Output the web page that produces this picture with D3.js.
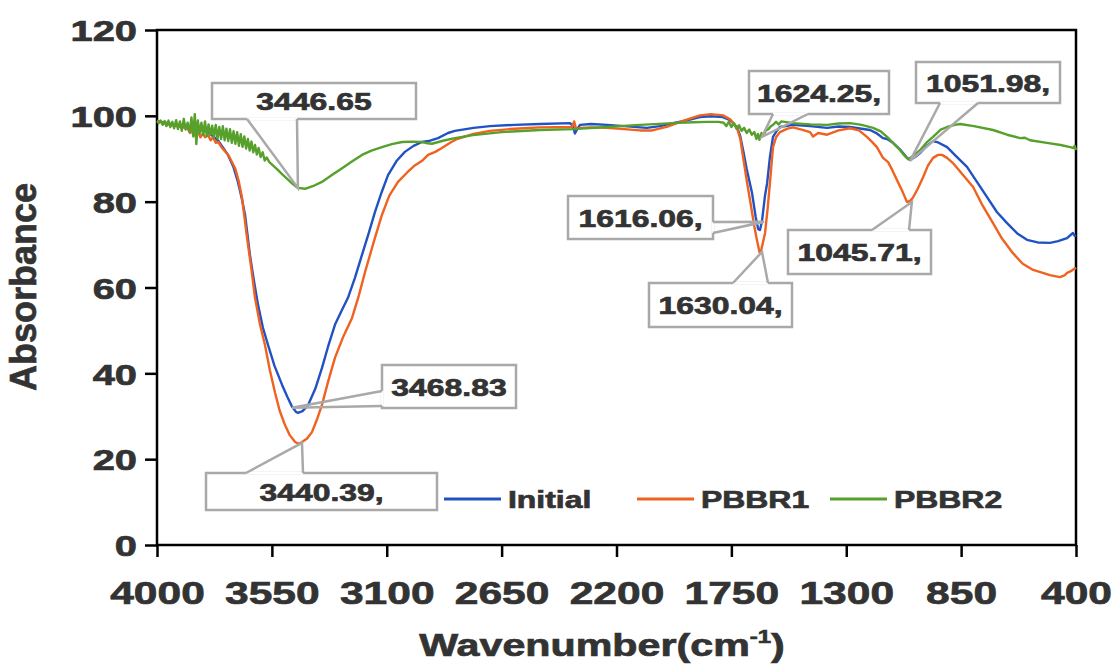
<!DOCTYPE html>
<html lang="en">
<head>
  <meta charset="UTF-8">
  <title>FTIR spectra</title>
  <script src="https://d3js.org/d3.v7.min.js"></script>
  <style>
    body { margin: 0; background: #fff; }
    svg text { font-family: "Liberation Sans", Arial, sans-serif; font-weight: bold; fill: #333;
               stroke: #333; stroke-width: 0.7px; paint-order: stroke; }
  </style>
</head>
<body>
  <svg id="chart" width="1115" height="667"></svg>
  <script>
    // --- data: [wavenumber, absorbance] ---
    const xTicks = [4000, 3550, 3100, 2650, 2200, 1750, 1300, 850, 400];
    const yTicks = [0, 20, 40, 60, 80, 100, 120];
    const seriesNames = ['Initial', 'PBBR1', 'PBBR2'];

    const initial = [
      [4000,98.8],[3950,98.2],[3900,97.6],[3850,97.0],[3800,96.2],[3760,94.2],[3722,90.9],[3700,88.0],[3683,84.6],[3667,80.5],
      [3655,76.9],[3636,67.6],[3620,61.5],[3604,55.9],[3585,50.6],[3565,46.6],[3540,41.8],[3510,37.3],[3490,34.6],[3471,32.2],
      [3455,31.0],[3448,30.8],[3430,31.2],[3408,32.6],[3380,36.4],[3354,41.2],[3330,46.2],[3303,51.3],[3275,54.8],[3252,57.6],
      [3225,62.2],[3197,67.6],[3170,72.8],[3146,77.6],[3120,82.2],[3095,86.2],[3060,89.6],[3029,91.6],[2995,93.0],[2962,93.9],
      [2930,94.2],[2899,94.8],[2860,96.0],[2833,96.5],[2760,97.2],[2696,97.6],[2600,97.9],[2500,98.1],[2382,98.3],[2370,97.6],
      [2363,95.9],[2355,96.8],[2343,97.9],[2300,98.1],[2237,97.9],[2170,97.6],[2108,97.3],[2081,97.2],[2030,97.6],[1979,98.3],
      [1920,99.0],[1873,99.7],[1830,99.9],[1783,99.7],[1755,99.0],[1728,97.4],[1715,95.2],[1704,92.0],[1690,87.6],[1669,82.0],
      [1655,76.5],[1645,73.6],[1638,73.4],[1630,75.5],[1618,81.5],[1610,84.3],[1599,90.4],[1587,95.1],[1571,96.6],[1560,97.4],
      [1509,97.9],[1442,97.6],[1375,97.2],[1330,97.5],[1285,97.4],[1240,97.0],[1207,96.7],[1180,95.9],[1156,94.8],[1140,94.6],
      [1117,93.7],[1090,92.2],[1062,90.2],[1050,89.7],[1030,90.4],[1011,91.3],[985,93.0],[960,94.1],[940,93.8],[905,92.7],
      [870,90.6],[827,88.1],[790,84.8],[749,81.1],[710,77.6],[670,75.0],[630,72.6],[592,71.1],[550,70.5],[502,70.4],
      [470,70.8],[435,71.5],[412,72.7],[405,72.0],[400,72.2]
    ];

    const pbbr1 = [
      [4000,98.8],[3950,97.9],[3900,97.4],[3880,97.0],[3870,96.0],[3860,96.9],[3850,95.4],[3840,96.5],[3830,95.0],[3820,95.9],
      [3812,95.0],[3800,95.5],[3790,94.3],[3780,95.0],[3770,93.7],[3760,93.9],[3745,92.5],[3720,90.8],[3694,87.8],[3680,84.8],
      [3667,80.9],[3647,71.5],[3630,64.2],[3616,57.6],[3597,51.5],[3577,46.6],[3558,40.8],[3538,35.6],[3520,31.4],[3499,28.0],
      [3480,25.6],[3459,24.0],[3445,23.6],[3432,24.0],[3412,24.8],[3393,26.3],[3375,29.0],[3354,32.6],[3330,38.0],[3303,43.6],
      [3270,48.6],[3236,52.9],[3210,58.0],[3185,63.6],[3150,70.8],[3119,76.9],[3090,81.4],[3056,84.6],[3020,86.8],[2989,88.5],
      [2960,89.6],[2938,90.9],[2910,91.6],[2884,92.5],[2850,93.8],[2825,94.6],[2760,95.8],[2696,96.5],[2600,97.0],[2500,97.3],
      [2374,97.4],[2366,98.7],[2358,96.9],[2343,97.2],[2300,97.3],[2237,97.2],[2170,96.9],[2108,96.6],[2060,96.6],[2000,97.5],
      [1940,98.8],[1873,100.1],[1830,100.4],[1783,100.1],[1755,99.2],[1728,97.2],[1715,94.6],[1704,90.4],[1690,85.0],[1677,80.4],
      [1660,74.2],[1650,71.1],[1640,68.3],[1632,69.0],[1618,72.7],[1608,78.4],[1599,84.3],[1587,92.7],[1575,95.0],[1560,96.2],
      [1530,97.0],[1509,97.3],[1475,96.8],[1442,96.2],[1430,95.2],[1410,96.0],[1375,95.6],[1330,96.6],[1285,97.1],[1250,96.6],
      [1219,95.1],[1200,94.0],[1180,92.7],[1156,90.2],[1136,89.2],[1120,87.4],[1101,85.0],[1080,82.4],[1062,79.9],[1050,80.2],
      [1039,80.9],[1020,83.0],[999,85.7],[980,88.4],[960,90.2],[940,90.9],[925,90.9],[905,90.2],[882,89.0],[845,86.4],
      [803,83.4],[765,79.0],[725,75.0],[690,71.4],[647,68.0],[610,65.6],[568,64.1],[530,63.4],[502,62.9],[463,62.4],
      [445,62.8],[435,63.4],[420,63.8],[404,64.5],[400,64.3]
    ];

    const pbbr2 = [
      [4000,98.8],[3993,98.3],[3986,98.9],[3978,97.9],[3970,98.8],[3963,97.6],[3955,98.9],[3948,97.4],[3940,98.6],[3933,97.1],
      [3925,99.0],[3918,96.9],[3910,98.7],[3903,96.5],[3895,99.3],[3888,96.8],[3880,98.4],[3872,96.2],[3865,99.6],[3858,95.2],
      [3852,100.4],[3846,93.4],[3840,98.9],[3833,95.9],[3826,98.4],[3819,95.6],[3812,98.7],[3805,95.3],[3798,98.0],[3791,95.5],
      [3784,97.7],[3777,95.0],[3770,97.9],[3763,94.7],[3756,97.4],[3749,94.6],[3742,97.6],[3735,94.3],[3728,97.0],[3721,94.1],
      [3714,96.9],[3707,93.7],[3700,96.4],[3693,93.5],[3686,96.2],[3679,93.0],[3672,95.7],[3665,92.8],[3658,95.2],[3651,92.4],
      [3644,94.6],[3637,91.9],[3630,94.0],[3623,91.5],[3616,93.2],[3609,91.0],[3602,92.5],[3594,90.4],[3586,91.5],[3578,89.6],
      [3570,90.3],[3560,89.2],[3545,88.4],[3530,87.6],[3510,86.4],[3490,85.3],[3470,84.2],[3448,83.2],[3420,83.0],[3390,83.6],
      [3354,84.6],[3315,86.2],[3275,87.8],[3235,89.4],[3197,90.9],[3160,91.9],[3119,92.7],[3080,93.4],[3040,93.9],[3000,94.0],
      [2962,93.9],[2940,93.6],[2923,93.5],[2880,94.2],[2833,94.8],[2762,95.5],[2650,96.2],[2500,96.7],[2370,96.9],[2237,97.4],
      [2108,97.9],[1979,98.3],[1900,98.5],[1846,98.6],[1800,98.6],[1780,98.4],[1770,97.6],[1760,98.6],[1750,97.4],[1740,98.3],
      [1730,97.0],[1720,97.8],[1710,96.5],[1700,97.2],[1690,96.0],[1680,96.8],[1670,95.6],[1660,96.2],[1652,94.6],[1646,95.8],
      [1640,94.4],[1632,96.0],[1624,95.4],[1615,96.6],[1605,96.9],[1595,97.6],[1585,98.0],[1575,98.6],[1565,98.0],[1555,98.7],
      [1509,98.3],[1440,98.0],[1375,97.9],[1330,98.2],[1285,98.3],[1240,97.9],[1195,97.2],[1165,96.4],[1140,95.1],[1115,93.6],
      [1089,92.0],[1070,90.6],[1058,89.9],[1040,90.6],[1011,92.0],[985,93.8],[960,95.1],[930,96.8],[905,97.4],[875,97.9],
      [854,98.1],[800,97.6],[725,96.7],[670,95.6],[619,94.8],[600,94.9],[580,94.3],[514,93.7],[460,93.2],[423,92.7],
      [410,92.5],[405,93.0],[400,92.0]
    ];

    // peak callouts: label text and the point on the curve it points at
    const peakLabels = [
      { text: '3446.65',  at: [3448, 83.2] },
      { text: '3468.83',  at: [3471, 32.0] },
      { text: '3440.39,', at: [3432, 23.8] },
      { text: '1624.25,', at: [1630, 95.1] },
      { text: '1051.98,', at: [1050, 89.5] },
      { text: '1616.06,', at: [1622, 75.3] },
      { text: '1630.04,', at: [1630, 68.3] },
      { text: '1045.71,', at: [1043, 79.9] }
    ];

    // --- layout ---
    const colors = ['#2152c4', '#f0621f', '#56a02b'];
    const SX = 1.33; // the original's lettering is wide, stretch it horizontally
    const plot = { left: 157, right: 1076, top: 30, bottom: 545 };

    // callout boxes (pixels) and where the pointer leaves the box
    const calloutLayout = [
      { x: 212, y: 83,  w: 204, h: 36, side: 'bottom', base: [247, 297] },
      { x: 382, y: 365, w: 134, h: 43, side: 'left',   base: [391, 406] },
      { x: 206, y: 473, w: 231, h: 37, side: 'top',    base: [246, 303] },
      { x: 749, y: 71,  w: 140, h: 43, side: 'bottom', base: [773, 808] },
      { x: 916, y: 62,  w: 144, h: 41, side: 'bottom', base: [940, 978] },
      { x: 568, y: 196, w: 145, h: 43, side: 'right',  base: [222, 233] },
      { x: 649, y: 283, w: 143, h: 44, side: 'top',    base: [733, 768] },
      { x: 788, y: 230, w: 143, h: 44, side: 'top',    base: [872, 909] }
    ];

    const svg = d3.select('#chart');

    const x = d3.scaleLinear().domain([4000, 400]).range([plot.left, plot.right]);
    const y = d3.scaleLinear().domain([0, 120]).range([plot.bottom, plot.top]);

    // axes
    const yAxis = svg.append('g')
      .attr('transform', `translate(${plot.left},0)`)
      .call(d3.axisLeft(y).tickValues(yTicks).tickSize(12).tickSizeOuter(0));
    yAxis.select('.domain').remove();
    yAxis.selectAll('.tick line').attr('stroke', '#000').attr('stroke-width', 2.5);
    yAxis.selectAll('.tick text')
      .attr('x', -20 / SX)
      .attr('dy', '0.36em')
      .attr('transform', `scale(${SX},1)`)
      .style('font-size', '30px');

    const xAxis = svg.append('g')
      .attr('transform', `translate(0,${plot.bottom})`)
      .call(d3.axisBottom(x).tickValues(xTicks).tickFormat(d3.format('d')).tickSize(12).tickSizeOuter(0));
    xAxis.select('.domain').remove();
    xAxis.selectAll('.tick line').attr('stroke', '#000').attr('stroke-width', 2.5);
    xAxis.selectAll('.tick text')
      .attr('y', 59)
      .attr('dy', 0)
      .attr('transform', `scale(${SX},1)`)
      .style('font-size', '32px');

    // frame
    svg.append('rect')
      .attr('x', plot.left).attr('y', plot.top)
      .attr('width', plot.right - plot.left).attr('height', plot.bottom - plot.top)
      .attr('fill', 'none').attr('stroke', '#000').attr('stroke-width', 2.5);

    // axis titles
    const xt = svg.append('text')
      .attr('transform', `translate(602,656) scale(${SX},1)`)
      .attr('text-anchor', 'middle')
      .style('font-size', '31px');
    xt.append('tspan').text('Wavenumber(cm');
    xt.append('tspan').attr('dy', -13).style('font-size', '18px').text('-1');
    xt.append('tspan').attr('dy', 13).text(')');

    svg.append('text')
      .attr('transform', 'translate(36,287) rotate(-90)')
      .attr('text-anchor', 'middle')
      .style('font-size', '36px')
      .text('Absorbance');

    // spectra
    const line = d3.line().x(d => x(d[0])).y(d => y(d[1]));
    const series = [initial, pbbr1, pbbr2];
    svg.append('g')
      .selectAll('path')
      .data(series)
      .enter().append('path')
      .attr('d', line)
      .attr('fill', 'none')
      .attr('stroke', (d, i) => colors[i])
      .attr('stroke-width', 2.4)
      .attr('stroke-linejoin', 'round');

    // callouts
    const callouts = svg.append('g');
    peakLabels.forEach((p, i) => {
      const b = calloutLayout[i];
      const ax = x(p.at[0]), ay = y(p.at[1]);
      let p1, p2;
      if (b.side === 'bottom') { p1 = [b.base[0], b.y + b.h]; p2 = [b.base[1], b.y + b.h]; }
      if (b.side === 'top')    { p1 = [b.base[0], b.y];       p2 = [b.base[1], b.y]; }
      if (b.side === 'left')   { p1 = [b.x, b.base[0]];       p2 = [b.x, b.base[1]]; }
      if (b.side === 'right')  { p1 = [b.x + b.w, b.base[0]]; p2 = [b.x + b.w, b.base[1]]; }

      callouts.append('rect')
        .attr('x', b.x).attr('y', b.y).attr('width', b.w).attr('height', b.h)
        .attr('fill', '#fff').attr('stroke', '#a9a9a9').attr('stroke-width', 2.5);
      // open the border where the pointer joins the box
      callouts.append('line')
        .attr('x1', p1[0]).attr('y1', p1[1]).attr('x2', p2[0]).attr('y2', p2[1])
        .attr('stroke', '#fff').attr('stroke-width', 3);
      callouts.append('path')
        .attr('d', `M${p1[0]},${p1[1]}L${ax},${ay}L${p2[0]},${p2[1]}`)
        .attr('fill', 'none').attr('stroke', '#a9a9a9').attr('stroke-width', 2.5)
        .attr('stroke-linejoin', 'miter');
      callouts.append('text')
        .attr('transform', `translate(${b.x + b.w / 2},${b.y + b.h / 2 + 9}) scale(${SX},1)`)
        .attr('text-anchor', 'middle')
        .style('font-size', '24px')
        .text(p.text);
    });

    // legend
    const legend = svg.append('g');
    seriesNames.forEach((name, i) => {
      const lx = 444 + i * 193;
      legend.append('line')
        .attr('x1', lx).attr('x2', lx + 57).attr('y1', 499).attr('y2', 499)
        .attr('stroke', colors[i]).attr('stroke-width', 3);
      legend.append('text')
        .attr('transform', `translate(${lx + 64},508) scale(${SX},1)`)
        .style('font-size', '24px')
        .text(name);
    });
  </script>
</body>
</html>
